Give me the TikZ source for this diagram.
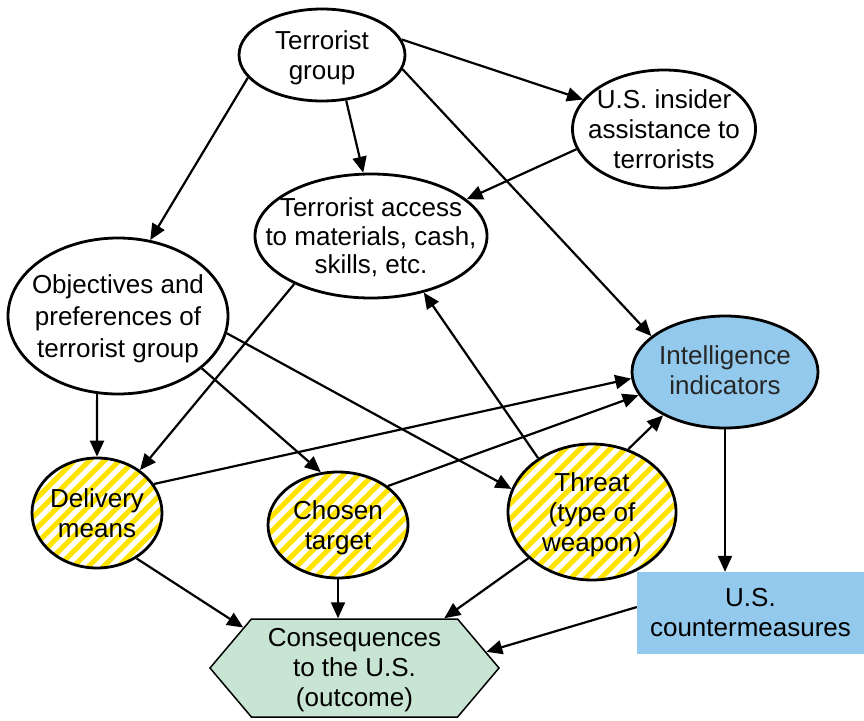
\documentclass[tikz,border=0pt]{standalone}
\usepackage{fontspec}
\setmainfont{Liberation Sans}
\usetikzlibrary{shapes.geometric,shapes.symbols,arrows.meta,calc}
\definecolor{stripe}{RGB}{255,228,0}
\definecolor{intelblue}{RGB}{146,201,236}
\definecolor{outcome}{RGB}{199,229,210}
\begin{document}
\begin{tikzpicture}[x=1pt,y=-1pt,
  every node/.style={font=\fontsize{26}{30}\selectfont, align=center, inner sep=0pt},
  oval/.style={ellipse, draw, line width=2.8pt, fill=white, inner sep=-30pt},
  striped/.style={oval, path picture={
      \foreach \k in {-30,...,30}{
        \draw[stripe, line width=5pt]
          ($(path picture bounding box.center)+(\k*15-150,150)$) -- ++(300,-300);
      }}},
  conn/.style={-{Triangle[length=16pt,width=14pt]}, line width=2.2pt}]
\useasboundingbox (0,0) rectangle (864,720);

% nodes of the influence diagram
\node[oval, text depth=-2.5pt, minimum width=166, minimum height=92] (grp) at (322,55) {Terrorist\\group};
\node[oval, minimum width=183, minimum height=118] (ins) at (664,129) {U.S. insider\\assistance to\\terrorists};
\node[oval, font=\fontsize{26}{28.5}\selectfont, text depth=-5pt, minimum width=232, minimum height=124] (acc) at (371,236) {Terrorist access\\to materials, cash,\\skills, etc.};
\node[oval, font=\fontsize{26}{32}\selectfont, text depth=-6.5pt, minimum width=220, minimum height=156] (obj) at (118,316) {Objectives and\\preferences of\\terrorist group};
\node[oval, fill=intelblue, text=black!85, text depth=4pt, minimum width=186, minimum height=112] (int) at (725,372) {Intelligence\\indicators};
\node[striped, minimum width=130, minimum height=110] (del) at (97,513) {Delivery\\means};
\node[striped, text depth=-1.5pt, minimum width=140, minimum height=106] (cho) at (338,525) {Chosen\\target};
\node[striped, text depth=-1.5pt, minimum width=168, minimum height=136] (thr) at (592,512) {Threat\\(type of\\weapon)};
\node[fill=intelblue, minimum width=227, minimum height=82] (cm) at (750.5,613) {U.S.\\countermeasures};
\node[signal, signal to=west and east, signal pointer angle=99.6, fill=outcome, draw, line width=1.5pt,
      text depth=1.5pt, minimum width=289, minimum height=98] (cons) at (354.5,668) {Consequences\\to the U.S.\\(outcome)};

% influences
\draw[conn] (grp.11.6) -- (ins.160.8);
\draw[conn] (grp.-10.2) -- (int.154);
\draw[conn] (grp.-62) -- (acc.97.8);
\draw[conn] (grp.197.3) -- (obj.67.2);
\draw[conn] (ins.193.3) -- (acc.21.1);
\draw[conn] (acc.212.8) -- (del.45.7);
\draw[conn] (obj.255.5) -- (del.north);
\draw[conn] (obj.-32.9) -- (cho.108.8);
\draw[conn] (obj.-9.9) -- (thr.164);
\draw[conn] (thr.135) -- (acc.-47);
\draw[conn] (del.27.8) -- (int.184.7);
\draw[conn] (cho.38.5) -- (int.195.9);
\draw[conn] (thr.60.4) -- (int.215.4);
\draw[conn] (int.south) -- (int.south |- cm.north);
\draw[conn] (del.-49.6) -- (cons.160.5);
\draw[conn] (cho.south) -- (cho.south |- cons.north);
\draw[conn] (thr.216.4) -- (cons.29.8);
\draw[conn] (cm.177) -- (cons.7.9);
\end{tikzpicture}
\end{document}
